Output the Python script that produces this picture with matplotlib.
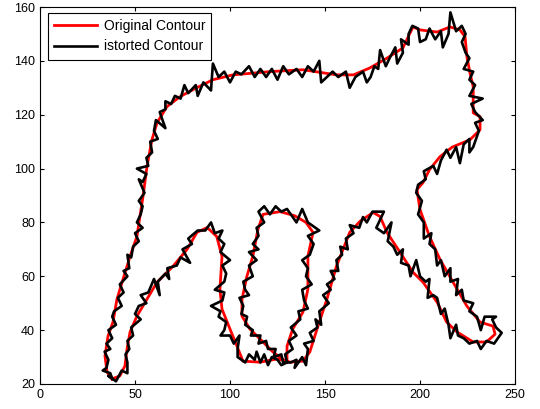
import matplotlib
matplotlib.use("Agg")
import matplotlib.pyplot as plt

plt.rcParams['font.family'] = ['Liberation Sans', 'DejaVu Sans']

# original contour (red), closed path
orig_x = [37.9, 42, 44.7, 45.8, 47.4, 51, 56.3, 61.6, 70, 77.4, 82.6, 88, 93, 95.8, 94.7, 95.8,
          100, 103.7, 106.8, 115.8, 124.7, 130, 130, 133, 138.4, 141, 141, 143.7, 140, 134,
          126.3, 117.4, 114.7, 112, 108.9, 106.3, 106.3, 110.5, 117.4, 122.6, 128, 131.6,
          138.4, 142, 145.8, 151, 156, 159.5, 163, 168.4, 175.3, 179, 182.6, 189.5, 196.3,
          201.6, 209, 214, 219.5, 228, 235, 239.5, 238.4, 231.6, 224.7, 217.4, 210.5, 205,
          200, 198.4, 201.6, 205, 210.5, 217, 226.3, 231.6, 231.6, 228, 228, 226.3, 224.7,
          223.7, 221, 215.8, 209, 200, 196.3, 191, 182.6, 173.7, 165, 156, 138.4, 121,
          101.6, 91, 80.5, 73.7, 66.8, 61.6, 58.9, 56.3, 54.2, 52.6, 51, 47.4, 43.7, 40.5,
          38.4, 35.8, 34.2, 35.3, 37.9]
orig_y = [21.9, 23, 26.7, 33, 39.3, 45.2, 51.5, 57.8, 63.7, 70, 76.3, 78.1, 74.8, 67.4, 55.2,
          47.8, 40.4, 34, 28.5, 28.1, 29.3, 28.5, 34, 40.4, 46.7, 55.2, 67.4, 76.3, 80, 82.5,
          84, 83, 77.4, 67.4, 60, 51.5, 45.2, 40.4, 35.6, 31.9, 29, 28.1, 28.5, 31.9, 40.4,
          51.5, 63.7, 70, 76.3, 80.4, 83.7, 82.2, 76.3, 68.9, 61.5, 57.8, 50.4, 43, 39.3,
          35.6, 35.6, 38.5, 41.5, 43, 48.9, 57.8, 66.3, 74.8, 84.8, 92.2, 94.8, 99.6, 104.4,
          108, 110.7, 114.4, 119.3, 120.7, 130.4, 135.5, 141.5, 149, 151.5, 152.6, 150.7,
          151.5, 152.6, 144.8, 141, 137.4, 134.8, 134.8, 136.7, 136, 134.8, 133, 129.3,
          126.7, 123, 117, 110.7, 100.7, 89.6, 82.2, 74.8, 67.4, 58.9, 51.5, 43, 37.8, 30.4,
          24.4, 21.9]

# distorted contour (black)
dist_pts = [
    (38, 22), (36, 23), (40, 21), (43, 25), (46, 24), (46, 28), (45, 31), (47, 33), (46, 36),
    (49, 38), (48, 41), (53, 44), (50, 46), (52, 49), (56, 50), (53, 53), (57, 54), (60, 59),
    (63, 53), (62, 58), (66, 61), (68, 59), (67, 63), (72, 64), (74, 67), (79, 65), (75, 70),
    (80, 72), (78, 74), (83, 77), (87, 77), (90, 80), (92, 76), (96, 77),
    (94, 74), (97, 72), (95, 69), (100, 66), (96, 64), (98, 61), (97, 58), (92, 55), (97, 54),
    (96, 51), (90, 49), (95, 47), (94, 45), (98, 43), (97, 40), (95, 38), (100, 38), (102, 35),
    (105, 38), (104, 33), (104, 30), (108, 28), (110, 31), (113, 29), (114, 32), (116, 28),
    (118, 31), (120, 27), (122, 30), (125, 29), (127, 27), (130, 28),
    (129, 31), (133, 33), (131, 36), (135, 38), (132, 41), (137, 44), (136, 47), (141, 48),
    (139, 51), (138, 55), (143, 57), (140, 60), (141, 63), (138, 66), (142, 68), (144, 72),
    (141, 75), (147, 77),
    (143, 79), (141, 80), (138, 85), (135, 80), (132, 83), (130, 85), (127, 84), (124, 86),
    (121, 83), (118, 86), (115, 84), (118, 80), (114, 78),
    (115, 75), (112, 72), (115, 70), (110, 69), (114, 66), (110, 64), (112, 60), (107, 58),
    (108, 55), (110, 53), (105, 52), (107, 49), (106, 46), (109, 45), (108, 42), (112, 40),
    (111, 38), (116, 38), (115, 35), (119, 36), (120, 33), (124, 33), (123, 30), (127, 31),
    (128, 28),
    (132, 28), (135, 29), (134, 26), (138, 30), (140, 27), (141, 33), (139, 35), (144, 36),
    (142, 39), (146, 41), (145, 44), (148, 42), (147, 47), (152, 50), (149, 53), (153, 55),
    (151, 57), (155, 59), (153, 62), (157, 62), (156, 66), (159, 68), (158, 71), (162, 70),
    (161, 74), (165, 76), (163, 79), (168, 78), (170, 82), (172, 80), (175, 84), (179, 84),
    (181, 84),
    (177, 78), (181, 76), (185, 80), (183, 73), (186, 71), (188, 68), (191, 70), (190, 65),
    (194, 64), (195, 60), (198, 66), (200, 60), (203, 58), (205, 59), (204, 52), (207, 53),
    (209, 52), (211, 46), (213, 48), (215, 42), (216, 37), (219, 42), (220, 38), (223, 37),
    (226, 35), (230, 36), (232, 33), (235, 36), (239, 35), (243, 39), (240, 41), (238, 44),
    (240, 45), (234, 45), (232, 40), (230, 45), (226, 47), (228, 50), (223, 51), (222, 55),
    (219, 53), (220, 59), (216, 58), (216, 63), (213, 60), (211, 66), (209, 64), (208, 70),
    (205, 72), (206, 76), (202, 74), (202, 80), (199, 83), (201, 88), (198, 91), (199, 94),
    (203, 96), (202, 99), (207, 101), (209, 98), (211, 103), (214, 107), (216, 104), (219, 108),
    (221, 102), (223, 109), (226, 111), (226, 106), (228, 108), (231, 114), (229, 117),
    (233, 118), (229, 121), (227, 124), (233, 126), (226, 127), (229, 131), (226, 133),
    (228, 136), (223, 137), (226, 141), (224, 143), (222, 147), (224, 150), (222, 153),
    (219, 151), (216, 158), (215, 150), (212, 145), (211, 151), (208, 148), (205, 152),
    (203, 148), (200, 147), (199, 152), (196, 153), (194, 150),
    (194, 146), (190, 148), (191, 143), (188, 139), (187, 145), (184, 141), (182, 138),
    (179, 144), (178, 137), (176, 138), (174, 134), (172, 132), (170, 136), (166, 134),
    (163, 130), (161, 136), (157, 134), (154, 136), (151, 134), (148, 132), (147, 140),
    (144, 136), (141, 138), (138, 134), (135, 137), (131, 135), (128, 138), (125, 133),
    (122, 137), (119, 134), (116, 137), (113, 134), (110, 138), (106, 135), (103, 136),
    (100, 132), (97, 136), (94, 134), (91, 139), (90, 129), (86, 132), (83, 127), (82, 131),
    (78, 128), (76, 131), (74, 126), (71, 127), (69, 124), (66, 125),
    (66, 122), (63, 121), (66, 115), (61, 118), (60, 114), (62, 111), (58, 110), (59, 106),
    (56, 104), (57, 101), (51, 100), (56, 98), (54, 95), (52, 96), (55, 91), (52, 88),
    (54, 86), (53, 83), (51, 80), (54, 78), (50, 76), (52, 73), (49, 71), (48, 67), (46, 68),
    (47, 63), (44, 62), (46, 60), (42, 57), (44, 54), (41, 52), (43, 49), (39, 47), (38, 45),
    (40, 42), (36, 40), (38, 37), (35, 35), (37, 33), (34, 32), (36, 29), (35, 26), (33, 25),
    (37, 24), (38, 22),
]
dist_x = [p[0] for p in dist_pts]
dist_y = [p[1] for p in dist_pts]

fig = plt.figure(figsize=(5.4, 4.09), dpi=100)
ax = fig.add_axes([40/540, 1 - 384/409, 475/540, 377/409])

ax.plot(orig_x, orig_y, color='red', lw=2.0, label='Original Contour')
ax.plot(dist_x, dist_y, color='black', lw=1.9, label='istorted Contour')

ax.set_xlim(0, 250)
ax.set_ylim(20, 160)
ax.set_xticks(range(0, 251, 50))
ax.set_yticks(range(20, 161, 20))
ax.tick_params(direction='in', top=True, right=True, labelsize=9, length=3, width=0.8)
for s in ax.spines.values():
    s.set_linewidth(0.8)

leg = ax.legend(loc='upper left', bbox_to_anchor=(8/475, 1 - 6/377), borderaxespad=0,
                fontsize=10, frameon=True, fancybox=False, edgecolor='black',
                framealpha=1, handlelength=3.1, handletextpad=0.45,
                borderpad=0.45, labelspacing=0.45)
leg.get_frame().set_linewidth(0.8)

fig.savefig('out.png', dpi=100)
